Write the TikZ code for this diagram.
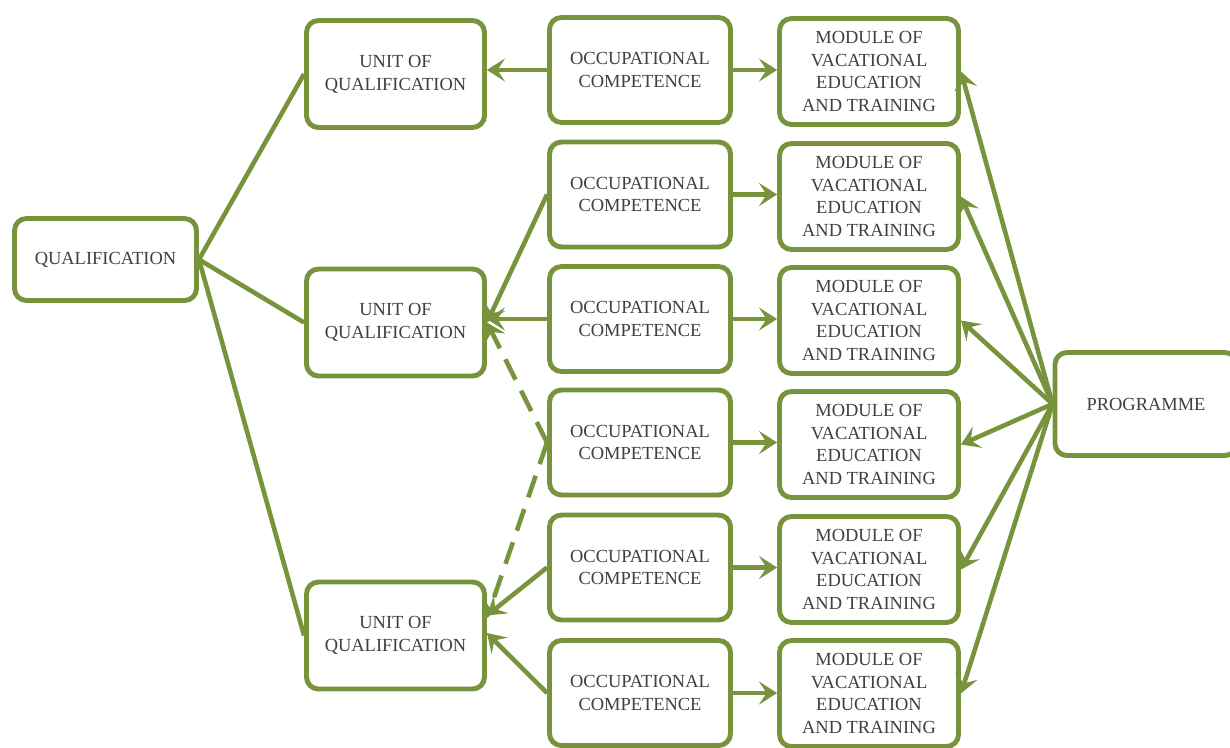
\documentclass[tikz,border=0pt]{standalone}
\usepackage{fontspec}
\setmainfont{Liberation Serif}
\usepackage{xcolor}
\usepackage{tikz}
\usetikzlibrary{arrows.meta, positioning}
\definecolor{olive}{RGB}{119,147,60}
\definecolor{textgray}{RGB}{64,64,64}
\tikzset{
    box/.style={rectangle, rounded corners=0.24cm, draw=olive, line width=2.8pt, fill=white, text=textgray, align=center, font=\fontsize{10.5}{13}\selectfont},
    unitbox/.style={box, minimum width=3.56cm, minimum height=2.14cm},
    compbox/.style={box, minimum width=3.62cm, minimum height=2.1cm},
    modbox/.style={box, minimum width=3.58cm, minimum height=2.12cm},
    link/.style={draw=olive, line width=2.6pt},
    arrow/.style={link, -{Stealth[length=3.6mm, width=4.6mm, inset=1.5mm]}}
}

\begin{document}
\begin{tikzpicture}[
    dashedarrow/.style={arrow, dash pattern=on 13pt off 7pt}
]
    \useasboundingbox (0,0) rectangle (24.6,-14.94);

    % Qualification and units
    \node[box, minimum width=3.64cm, minimum height=1.64cm] (qual) at (2.11,-5.19) {QUALIFICATION};
    \node[unitbox] (unit1) at (7.91,-1.48) {UNIT OF\\ QUALIFICATION};
    \node[unitbox] (unit2) at (7.91,-6.45) {UNIT OF\\ QUALIFICATION};
    \node[unitbox] (unit3) at (7.91,-12.71) {UNIT OF\\ QUALIFICATION};

    % Competences
    \node[compbox] (comp1) at (12.8,-1.40) {OCCUPATIONAL\\ COMPETENCE};
    \node[compbox] (comp2) at (12.8,-3.89) {OCCUPATIONAL\\ COMPETENCE};
    \node[compbox] (comp3) at (12.8,-6.38) {OCCUPATIONAL\\ COMPETENCE};
    \node[compbox] (comp4) at (12.8,-8.85) {OCCUPATIONAL\\ COMPETENCE};
    \node[compbox] (comp5) at (12.8,-11.35) {OCCUPATIONAL\\ COMPETENCE};
    \node[compbox] (comp6) at (12.8,-13.86) {OCCUPATIONAL\\ COMPETENCE};

    % Modules
    \node[modbox] (mod1) at (17.38,-1.43) {MODULE OF\\ VACATIONAL\\ EDUCATION\\ AND TRAINING};
    \node[modbox] (mod2) at (17.38,-3.93) {MODULE OF\\ VACATIONAL\\ EDUCATION\\ AND TRAINING};
    \node[modbox] (mod3) at (17.38,-6.41) {MODULE OF\\ VACATIONAL\\ EDUCATION\\ AND TRAINING};
    \node[modbox] (mod4) at (17.38,-8.89) {MODULE OF\\ VACATIONAL\\ EDUCATION\\ AND TRAINING};
    \node[modbox] (mod5) at (17.38,-11.39) {MODULE OF\\ VACATIONAL\\ EDUCATION\\ AND TRAINING};
    \node[modbox] (mod6) at (17.38,-13.87) {MODULE OF\\ VACATIONAL\\ EDUCATION\\ AND TRAINING};

    % Programme
    \node[box, minimum width=3.64cm, minimum height=2.06cm] (prog) at (22.92,-8.08) {PROGRAMME};

    % Qualification to units
    \foreach \u in {unit1, unit2, unit3}
        \draw[link] (qual.east) -- (\u.west);

    % Competences to units
    \draw[arrow] (comp1.west) -- (comp1.west -| unit1.east);
    \draw[arrow] (comp2.west) -- (unit2.east);
    \draw[arrow] (comp3.west) -- (comp3.west -| unit2.east);
    \draw[dashedarrow] (comp4.west) -- (unit2.east);
    \draw[dashedarrow] (comp4.west) -- ([yshift=0.35cm]unit3.east);
    \draw[arrow] (comp5.west) -- ([yshift=0.4cm]unit3.east);
    \draw[arrow] (comp6.west) -- ([yshift=0.05cm]unit3.east);

    % Competences to modules
    \foreach \i in {1,...,6}
        \draw[arrow] (comp\i.east) -- (comp\i.east -| mod\i.west);

    % Programme to modules
    \foreach \i in {1,...,6}
        \draw[arrow] (prog.west) -- (mod\i.east);
\end{tikzpicture}
\end{document}
